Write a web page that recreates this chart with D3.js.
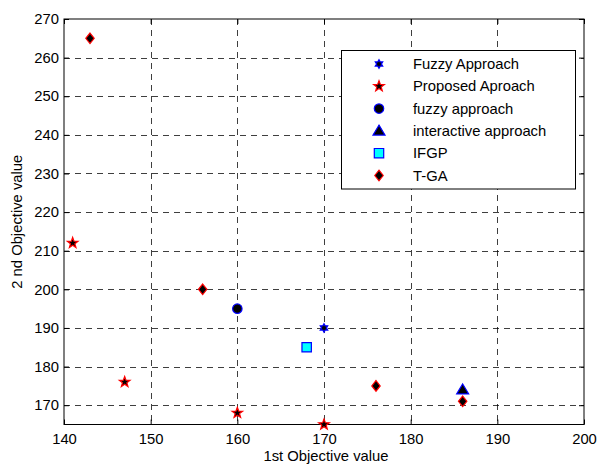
<!DOCTYPE html>
<html><head><meta charset="utf-8">
<script src="https://cdn.jsdelivr.net/npm/d3@7"></script>
<style>
body{margin:0;background:#fff;}
svg{display:block;}
text{font-family:"Liberation Sans",Arial,sans-serif;}
</style></head>
<body>
<svg id="c" width="597" height="465"></svg>
<script>
const xTicks = [140,150,160,170,180,190,200];
const yTicks = [170,180,190,200,210,220,230,240,250,260,270];
const seriesNames = ["Fuzzy Approach","Proposed Aproach","fuzzy approach","interactive approach","IFGP","T-GA"];
const fuzzyApproachA = [[170,190]];
const proposedAproach = [[141,212],[147,176],[160,168],[170,165]];
const fuzzyApproachB = [[160,195]];
const interactiveApproach = [[186,174]];
const ifgp = [[168,185]];
const tga = [[143,265],[156,200],[176,175],[186,171]];

const W=597,H=465, FS=14.8;
const m={l:64,r:584,t:19,b:424.5};
const svg=d3.select("#c");
svg.append("rect").attr("width",W).attr("height",H).attr("fill","#fff");
const x=d3.scaleLinear().domain([140,200]).range([m.l,m.r]);
const y=d3.scaleLinear().domain([165,270]).range([m.b,m.t]);

// grid
const g=svg.append("g");
g.selectAll("line.vx").data(xTicks.slice(1,-1)).enter().append("line")
 .attr("x1",d=>Math.round(x(d))+0.5).attr("x2",d=>Math.round(x(d))+0.5).attr("y1",m.t).attr("y2",m.b)
 .attr("stroke","#000").attr("stroke-width",1).attr("stroke-dasharray","6,5").attr("opacity",0.75);
g.selectAll("line.hy").data(yTicks.slice(0,-1)).enter().append("line")
 .attr("y1",d=>Math.round(y(d))+0.5).attr("y2",d=>Math.round(y(d))+0.5).attr("x1",m.l).attr("x2",m.r)
 .attr("stroke","#000").attr("stroke-width",1).attr("stroke-dasharray","6,5").attr("opacity",0.75);

// axes
svg.append("g").attr("transform",`translate(0,${m.b})`)
 .call(d3.axisBottom(x).tickValues(xTicks).tickSizeInner(-5).tickSizeOuter(0).tickPadding(9));
svg.append("g").attr("transform",`translate(0,${m.t})`)
 .call(d3.axisTop(x).tickValues(xTicks).tickSizeInner(-5).tickSizeOuter(0).tickFormat(""));
svg.append("g").attr("transform",`translate(${m.l},0)`)
 .call(d3.axisLeft(y).tickValues(yTicks).tickSizeInner(-5).tickSizeOuter(0).tickPadding(5));
svg.append("g").attr("transform",`translate(${m.r},0)`)
 .call(d3.axisRight(y).tickValues(yTicks).tickSizeInner(-5).tickSizeOuter(0).tickFormat(""));
svg.selectAll(".domain").remove();
svg.selectAll(".tick line").attr("stroke","#000");
svg.selectAll(".tick text").attr("font-size",FS).attr("fill","#000").attr("font-family","Liberation Sans, Arial, sans-serif");
svg.append("rect").attr("x",m.l).attr("y",m.t).attr("width",m.r-m.l).attr("height",m.b-m.t)
 .attr("fill","none").attr("stroke","#000").attr("stroke-width",1);

// labels
svg.append("text").attr("x",(m.l+m.r)/2+2).attr("y",461).attr("text-anchor","middle")
 .attr("font-size",FS).text("1st Objective value");
svg.append("text").attr("transform",`translate(22,${(m.t+m.b)/2}) rotate(-90)`).attr("text-anchor","middle")
 .attr("font-size",FS).text("2 nd Objective value");

// marker paths
function starPath(n,R,r){
  let p=[];
  for(let i=0;i<2*n;i++){
    const a=-Math.PI/2+i*Math.PI/n;
    const rr=i%2===0?R:r;
    p.push([rr*Math.cos(a),rr*Math.sin(a)]);
  }
  return "M"+p.map(q=>q[0].toFixed(2)+","+q[1].toFixed(2)).join("L")+"Z";
}
const markers=[
 {name:seriesNames[0],data:fuzzyApproachA,path:starPath(6,4.2,2.4),fill:"#000",stroke:"#0000ff",sw:1.3},
 {name:seriesNames[1],data:proposedAproach,path:starPath(5,5.6,2.3),fill:"#000",stroke:"#ff0000",sw:1.2},
 {name:seriesNames[2],data:d3.range?fuzzyApproachB:[],path:d3.symbol(d3.symbolCircle,70)(),fill:"#000",stroke:"#0000ff",sw:1.2},
 {name:seriesNames[3],data:interactiveApproach,path:"M0,-5.8L6,4.2L-6,4.2Z",fill:"#000",stroke:"#0000ff",sw:1.2},
 {name:seriesNames[4],data:ifgp,path:"M-4.7,-4.7H4.7V4.7H-4.7Z",fill:"#00ffff",stroke:"#0000ff",sw:1.2},
 {name:seriesNames[5],data:tga,path:"M0,-5.3L4.2,0L0,5.3L-4.2,0Z",fill:"#000",stroke:"#ff0000",sw:1.2}
];
const pts=svg.append("g");
markers.forEach(mk=>{
  pts.selectAll(null).data(mk.data).enter().append("path")
   .attr("d",mk.path).attr("transform",d=>`translate(${x(d[0])},${y(d[1])})`)
   .attr("fill",mk.fill).attr("stroke",mk.stroke).attr("stroke-width",mk.sw);
});

// legend
const lg=svg.append("g");
lg.append("rect").attr("x",341.5).attr("y",50.5).attr("width",234).attr("height",138.5)
 .attr("fill","#fff").attr("stroke","#000").attr("stroke-width",1);
markers.forEach((mk,i)=>{
  const yy=64+i*22.3;
  lg.append("path").attr("d",mk.path).attr("transform",`translate(379,${yy})`)
   .attr("fill",mk.fill).attr("stroke",mk.stroke).attr("stroke-width",mk.sw);
  lg.append("text").attr("x",413).attr("y",yy+5).attr("font-size",FS).text(mk.name);
});
</script>
</body></html>
